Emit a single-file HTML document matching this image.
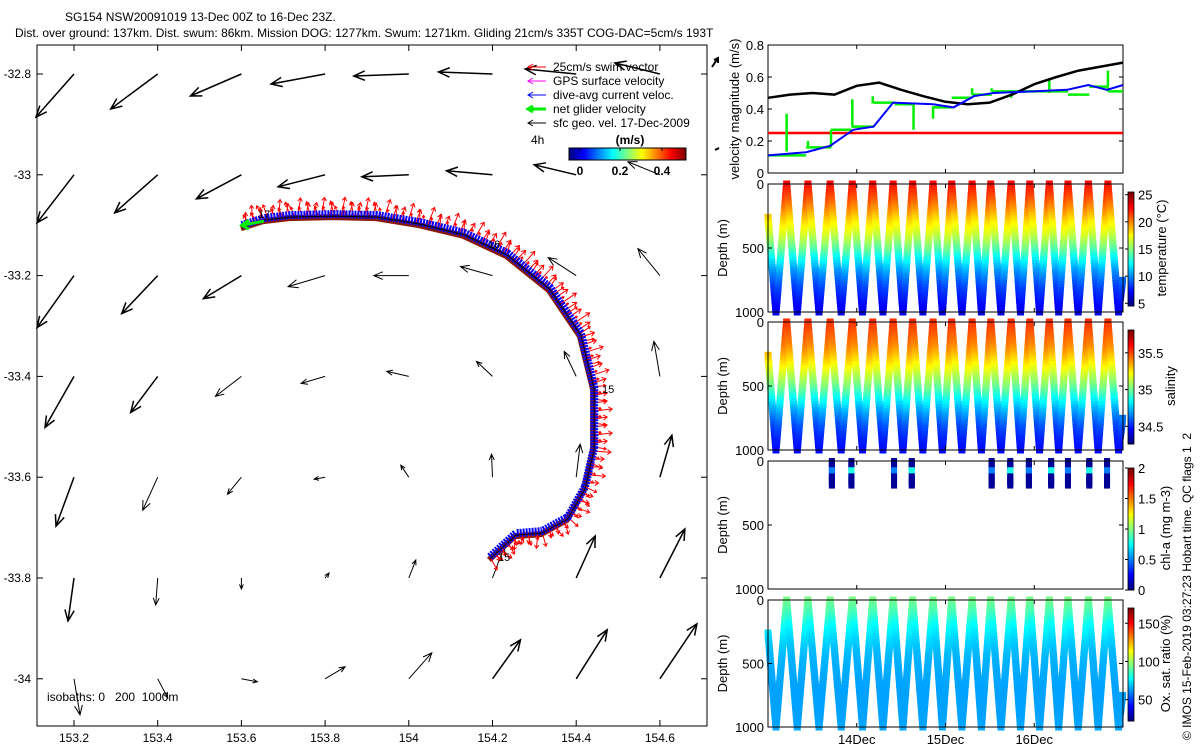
<!DOCTYPE html>
<html><head><meta charset="utf-8"><style>
body{margin:0;background:#fff;}
svg{display:block;font-family:"Liberation Sans",sans-serif;}
</style></head><body>
<svg id="fig" width="1200" height="750" viewBox="0 0 1200 750" xmlns="http://www.w3.org/2000/svg">
<text x="65" y="21" font-size="12">SG154 NSW20091019 13-Dec 00Z to 16-Dec 23Z.</text>
<text x="15" y="37" font-size="12">Dist. over ground: 137km. Dist. swum: 86km. Mission DOG: 1277km. Swum: 1271km. Gliding 21cm/s 335T COG-DAC=5cm/s 193T</text>
<g id="map"></g>
<g id="vel"></g>
<g id="temp"></g>
<g id="sal"></g>
<g id="chl"></g>
<g id="ox"></g>
<text transform="translate(1191,740) rotate(-90)" font-size="12" style="white-space:pre">© IMOS 15-Feb-2019 03:27:23 Hobart time. QC flags 1  2</text>
</svg>
<script>
// ---- map data ----
const lonTicks=[153.2,153.4,153.6,153.8,154,154.2,154.4,154.6];
const latTicks=[-32.8,-33,-33.2,-33.4,-33.6,-33.8,-34];
// geostrophic vectors (rows = latTicks, cols = lonTicks), m/s (u east, v north)
const geoU=[
[-0.38,-0.47,-0.51,-0.54,-0.55,-0.54,-0.51,-0.45],
[-0.37,-0.43,-0.45,-0.47,-0.47,-0.46,-0.42,-0.32],
[-0.37,-0.36,-0.38,-0.37,-0.35,-0.32,-0.28,-0.22],
[-0.29,-0.27,-0.26,-0.24,-0.22,-0.16,-0.12,-0.06],
[-0.18,-0.15,-0.14,-0.11,-0.08,-0.01,0.04,0.12],
[-0.06,-0.02,0.00,0.04,0.07,0.12,0.19,0.25],
[0.06,0.10,0.16,0.20,0.23,0.28,0.31,0.37]];
const geoV=[
[-0.43,-0.35,-0.22,-0.10,-0.02,0.02,0.05,0.11],
[-0.48,-0.38,-0.24,-0.12,-0.02,0.04,0.10,0.13],
[-0.52,-0.38,-0.23,-0.11,0.00,0.09,0.18,0.27],
[-0.51,-0.36,-0.20,-0.07,0.05,0.15,0.25,0.35],
[-0.49,-0.33,-0.17,-0.02,0.12,0.23,0.33,0.42],
[-0.43,-0.27,-0.11,0.05,0.18,0.32,0.42,0.49],
[-0.36,-0.19,-0.03,0.12,0.26,0.39,0.49,0.55]];
const trajLon=[154.194,154.256,154.318,154.380,154.421,154.443,154.443,154.411,154.337,154.235,154.132,154.027,153.924,153.821,153.716,153.654,153.601];
const trajLat=[-33.758,-33.711,-33.707,-33.679,-33.619,-33.540,-33.421,-33.314,-33.223,-33.155,-33.115,-33.094,-33.080,-33.078,-33.080,-33.086,-33.100];
// ---- velocity panel data ----
const geoT=[0,0.25,0.5,0.75,1,1.25,1.5,1.75,2,2.25,2.5,2.75,3,3.25,3.5,3.75,4];
const geoMag=[0.47,0.49,0.50,0.49,0.545,0.565,0.52,0.48,0.445,0.43,0.44,0.49,0.555,0.60,0.64,0.665,0.69];
const dacT=[0,0.43,0.70,0.96,1.19,1.41,1.86,2.09,2.32,2.54,2.99,3.37,3.61,3.82,4.0];
const dacMag=[0.11,0.13,0.17,0.27,0.29,0.44,0.43,0.41,0.48,0.50,0.51,0.52,0.55,0.52,0.55];
const netT=[0,0.43,0.71,0.94,1.19,1.43,1.64,1.85,2.07,2.30,2.52,2.95,3.38,3.62,3.83,4.0];
const netMag=[0.11,0.16,0.27,0.29,0.44,0.43,null,0.41,0.47,0.49,0.51,0.51,0.49,0.54,0.51,0.56];
const spikeT=[0.21,0.45,0.71,0.95,1.18,1.64,1.86,2.30,2.52,2.74,3.17,3.83];
const spikeV=[0.37,0.20,0.16,0.46,0.48,0.27,0.34,0.53,0.53,0.47,0.58,0.64];
const swimMag=0.25;
// ---- dive data (days since 13-Dec 00Z) ----
const surfT=[0.21,0.45,0.70,0.95,1.18,1.41,1.63,1.86,2.07,2.30,2.51,2.74,2.95,3.17,3.38,3.61,3.83];
const chlT=[0.72,0.94,1.42,1.62,2.52,2.73,2.94,3.19,3.38,3.62,3.82];
const profDepth=[0,100,200,300,400,500,600,700,800,900,1000];
const tempProf=[22.8,21.5,19.8,18,16.5,14.5,12,10,8.5,7.5,6.5];
const salProf=[35.55,35.48,35.4,35.28,35.15,35.02,34.85,34.7,34.58,34.5,34.46];
const oxProf=[95,88,78,72,68,66,65,64,64,64,65];

const NS="http://www.w3.org/2000/svg";
function mk(parent,tag,attrs){const e=document.createElementNS(NS,tag);for(const k in attrs)e.setAttribute(k,attrs[k]);parent.appendChild(e);return e;}
function jet(v){v=Math.max(0,Math.min(1,v));const c=x=>Math.round(255*Math.max(0,Math.min(1,x)));
return `rgb(${c(1.5-Math.abs(4*v-3))},${c(1.5-Math.abs(4*v-2))},${c(1.5-Math.abs(4*v-1))})`;}
function interp(xs,ys,x){for(let i=1;i<xs.length;i++){if(x<=xs[i]){const f=(x-xs[i-1])/(xs[i]-xs[i-1]);return ys[i-1]+f*(ys[i]-ys[i-1]);}}return ys[ys.length-1];}

// ================= MAP =================
(function(){
const g=document.getElementById('map');
const X=lon=>74+(lon-153.2)/0.2*83.7, Y=lat=>74+(-32.8-lat)/0.2*100.8;
const L=37,R=707,T=45,B=726;
let e=mk(g,'rect',{x:L,y:T,width:R-L,height:B-T,fill:'none',stroke:'#000','stroke-width':1});

lonTicks.forEach(v=>{const x=X(v);
 mk(g,'line',{x1:x,y1:B,x2:x,y2:B-6,stroke:'#000'});mk(g,'line',{x1:x,y1:T,x2:x,y2:T+6,stroke:'#000'});
 const t=mk(g,'text',{x:x,y:B+16,'font-size':12,'text-anchor':'middle'});t.textContent=String(v);
 });
latTicks.forEach(v=>{const y=Y(v);
 mk(g,'line',{x1:L,y1:y,x2:L+6,y2:y,stroke:'#000'});mk(g,'line',{x1:R,y1:y,x2:R-6,y2:y,stroke:'#000'});
 const t=mk(g,'text',{x:31,y:y+4,'font-size':12,'text-anchor':'end'});t.textContent=String(v);
 });
// geostrophic arrows
const S=100;
latTicks.forEach((la,i)=>lonTicks.forEach((lo,j)=>{
 const x0=X(lo),y0=Y(la),dx=geoU[i][j]*S,dy=-geoV[i][j]*S;
 const x1=x0+dx,y1=y0+dy,len=Math.hypot(dx,dy),ang=Math.atan2(dy,dx);
 const h=Math.min(12,Math.max(5,len*0.28)),sw=len>40?1.5:1;
 const a=mk(g,'path',{d:`M${x0},${y0}L${x1},${y1}M${x1-h*Math.cos(ang-0.4)},${y1-h*Math.sin(ang-0.4)}L${x1},${y1}L${x1-h*Math.cos(ang+0.4)},${y1-h*Math.sin(ang+0.4)}`,stroke:'#000','stroke-width':sw,fill:'none'});
 
}));
// trajectory
const pts=trajLon.map((lo,i)=>[X(lo),Y(trajLat[i])]);
const d='M'+pts.map(p=>p.join(',')).join('L');
let tr=mk(g,'path',{d:d,stroke:'#8b1a00','stroke-width':6,fill:'none',transform:'translate(-1,3)'});

// red swim arrows
for(let i=0;i<pts.length-1;i++){const [ax,ay]=pts[i],[bx,by]=pts[i+1];const n=Math.max(2,Math.round(Math.hypot(bx-ax,by-ay)/4));
 for(let k=0;k<n;k++){const f=k/n,x=ax+f*(bx-ax),y=ay+f*(by-ay);const nx=-(by-ay),ny=(bx-ax),nl=Math.hypot(nx,ny);
  const s=(k%3===0?15:10);const ex=x+nx/nl*s+(k%2?3:-3),ey=y+ny/nl*s+(k%2?-2:2);
  const ux=(ex-x)/s,uy=(ey-y)/s;
  const r=mk(g,'path',{d:`M${x},${y}L${ex},${ey}M${ex-3*ux-2*uy},${ey-3*uy+2*ux}L${ex},${ey}L${ex-3*ux+2*uy},${ey-3*uy-2*ux}`,stroke:'#ff0000','stroke-width':1,fill:'none'});
  }}
let bl=mk(g,'path',{d:d,stroke:'#0000ff','stroke-width':8,fill:'none','stroke-dasharray':'2 1'});

let bk=mk(g,'path',{d:d,stroke:'#000','stroke-width':1,fill:'none',transform:'translate(0,2)'});

const [gx,gy]=pts[pts.length-1];
let gr=mk(g,'path',{d:`M${gx+22},${gy-4}L${gx},${gy}M${gx+7},${gy-5}L${gx},${gy}L${gx+7},${gy+4}`,stroke:'#00ee00','stroke-width':3,fill:'none'});

[['15',602,393],['16',488,248],['17',258,218],['15',498,561]].forEach(([s,x,y])=>{const t=mk(g,'text',{x:x,y:y,'font-size':11});t.textContent=s;
 });
const iso=mk(g,'text',{x:47,y:701,'font-size':12,style:'white-space:pre'});iso.textContent='isobaths: 0   200  1000m';

// legend
const leg=[['25cm/s swim vector','#ff0000',1],['GPS surface velocity','#ff00ff',1],['dive-avg current veloc.','#0000ff',1],['net glider velocity','#00ee00',3],['sfc geo. vel. 17-Dec-2009','#000',1]];
leg.forEach(([s,c,w],i)=>{const y=67+i*14;
 const ln=mk(g,'path',{d:`M546,${y}L528,${y}M533,${y-3}L528,${y}L533,${y+3}`,stroke:c,'stroke-width':w,fill:'none'});
 
 const t=mk(g,'text',{x:553,y:y+4,'font-size':12});t.textContent=s;
 });
let t4=mk(g,'text',{x:531,y:144,'font-size':12});t4.textContent='4h';
let ms=mk(g,'text',{x:630,y:144,'font-size':12,'font-weight':'bold','text-anchor':'middle'});ms.textContent='(m/s)';
for(let k=0;k<117;k++){mk(g,'rect',{x:569+k,y:148,width:1.2,height:12,fill:jet(k/116)});}
let cb=mk(g,'rect',{x:569,y:148,width:117,height:12,fill:'none',stroke:'#000'});
[['0',580],['0.2',620],['0.4',662]].forEach(([s,x])=>{mk(g,'line',{x1:x,y1:148,x2:x,y2:151,stroke:'#000'});const t=mk(g,'text',{x:x,y:175,'font-size':12,'font-weight':'bold','text-anchor':'middle'});t.textContent=s;
 });
})();

// ================= RIGHT PANELS =================
const PL=768,PR=1123;
const tx=t=>PL+t/4*(PR-PL);
function axes(g,T,B,yt,ylab,name){
 let r=mk(g,'rect',{x:PL,y:T,width:PR-PL,height:B-T,fill:'none',stroke:'#000'});
 
 yt.forEach(([v,y,s])=>{mk(g,'line',{x1:PL,y1:y,x2:PL+4,y2:y,stroke:'#000'});mk(g,'line',{x1:PR,y1:y,x2:PR-4,y2:y,stroke:'#000'});
  const t=mk(g,'text',{x:PL-4,y:y+5,'font-size':13,'text-anchor':'end'});t.textContent=s;
  });
 [1,2,3].forEach(d=>{mk(g,'line',{x1:tx(d),y1:B,x2:tx(d),y2:B-4,stroke:'#000'});mk(g,'line',{x1:tx(d),y1:T,x2:tx(d),y2:T+4,stroke:'#000'});});
 const yl=mk(g,'text',{transform:`translate(${ylab[1]},${(T+B)/2}) rotate(-90)`,'font-size':13,'text-anchor':'middle'});yl.textContent=ylab[0];
 
}
// velocity
(function(){const g=document.getElementById('vel');const T=45,B=173;const vy=v=>B-v/0.8*(B-T);
 axes(g,T,B,[[0,vy(0),'0'],[0.2,vy(0.2),'0.2'],[0.4,vy(0.4),'0.4'],[0.6,vy(0.6),'0.6'],[0.8,vy(0.8),'0.8']],['velocity magnitude (m/s)',739],'velocity');
 let r=mk(g,'line',{x1:PL,y1:vy(swimMag),x2:PR,y2:vy(swimMag),stroke:'#ff0000','stroke-width':2.5});
 let gp='';for(let i=0;i<netT.length-1;i++){if(netMag[i]===null)continue;gp+=`M${tx(netT[i])},${vy(netMag[i])}H${tx(netT[i+1])}`;}
 spikeT.forEach((t,i)=>{const base=interp(netT,netMag.map((v,k)=>v===null?netMag[k-1]:v),t);gp+=`M${tx(t)},${vy(base)}V${vy(spikeV[i])}`;});
 let gn=mk(g,'path',{d:gp,stroke:'#00ee00','stroke-width':2.5,fill:'none'});
 let bk=mk(g,'polyline',{points:geoT.map((t,i)=>tx(t)+','+vy(geoMag[i])).join(' '),stroke:'#000','stroke-width':2.5,fill:'none','stroke-linejoin':'round'});
 let bl=mk(g,'polyline',{points:dacT.map((t,i)=>tx(t)+','+vy(dacMag[i])).join(' '),stroke:'#0000ff','stroke-width':2,fill:'none'});
 let ar=mk(g,'path',{d:'M712,67L718,58M714,60L718,58L718,63M715,150L719,148',stroke:'#000','stroke-width':2,fill:'none'});
})();
// dive panels
function divePath(){const p=[[0,260],[0.09,1000]];surfT.forEach((t,i)=>{p.push([t,0]);const nx=i<surfT.length-1?(t+surfT[i+1])/2:3.95;p.push([nx,1000]);});p.push([4,730]);return p;}
function divePanel(id,name,T,B,prof,vmin,vmax,ylabel,cbTicks,cbLabel,cbLabX){
 const g=document.getElementById(id);const dy=d=>T+d/1000*(B-T);
 const p=divePath();
 for(let i=0;i<p.length-1;i++){const [t0,d0]=p[i],[t1,d1]=p[i+1];const n=Math.max(2,Math.round(Math.abs(d1-d0)/22));
  for(let k=0;k<n;k++){const f=k/n,t=t0+f*(t1-t0),d=d0+f*(d1-d0);const v=interp(profDepth,prof,d);
   const c=mk(g,'rect',{x:tx(t)-3.5,y:dy(d)-3.5,width:7,height:7,fill:jet((v-vmin)/(vmax-vmin))});
   }}
 axes(g,T,B,[[0,T,'0'],[500,(T+B)/2,'500'],[1000,B,'1000']],['Depth (m)',727],name);
 colorbar(g,name,T,B,vmin,vmax,cbTicks,cbLabel,cbLabX);
}
function colorbar(g,name,T,B,vmin,vmax,ticks,label,lx){
 const t0=T+8,b0=B-6;const n=60;for(let k=0;k<n;k++){mk(g,'rect',{x:1128,y:b0-(k+1)*(b0-t0)/n,width:6,height:(b0-t0)/n+0.5,fill:jet(k/(n-1))});}
 let r=mk(g,'rect',{x:1128,y:t0,width:6,height:b0-t0,fill:'none',stroke:'#000','stroke-width':0.8});
 ticks.forEach(v=>{const y=b0-(v-vmin)/(vmax-vmin)*(b0-t0);mk(g,'line',{x1:1125,y1:y,x2:1128,y2:y,stroke:'#000'});
  const t=mk(g,'text',{x:1138,y:y+5,'font-size':13});t.textContent=String(v);});
 const l=mk(g,'text',{transform:`translate(${lx},${(T+B)/2}) rotate(-90)`,'font-size':13,'text-anchor':'middle'});l.textContent=label;
 
}
divePanel('temp','temperature',184,312,tempProf,4.5,25.5,'Depth (m)',[5,10,15,20,25],'temperature (°C)',1166);
divePanel('sal','salinity',322,450,salProf,34.26,35.81,'Depth (m)',[34.5,35,35.5],'salinity',1175);
divePanel('ox','oxygen',600,727,oxProf,22,170,'Depth (m)',[50,100,150],'Ox. sat. ratio (%)',1170);
(function(){const g=document.getElementById('chl');const T=461,B=589;const dy=d=>T+d/1000*(B-T);
 chlT.forEach((t,i)=>{for(let d=0;d<=200;d+=12){const v=(d>70&&d<110)?0.5+0.3*(i%2):0.05;
  const c=mk(g,'rect',{x:tx(t)-3,y:dy(d)-3,width:6,height:6,fill:jet(v/2)});}});
 axes(g,T,B,[[0,T,'0'],[500,(T+B)/2,'500'],[1000,B,'1000']],['Depth (m)',727],'chl');
 colorbar(g,'chl',T-1,B+7,0,2,[0,0.5,1,1.5,2],'chl-a (mg m-3)',1170);
})();
[['14Dec',1],['15Dec',2],['16Dec',3]].forEach(([s,d])=>{const t=mk(document.getElementById('ox'),'text',{x:tx(d),y:744,'font-size':13,'text-anchor':'middle'});t.textContent=s;
 });
</script>
</body></html>
